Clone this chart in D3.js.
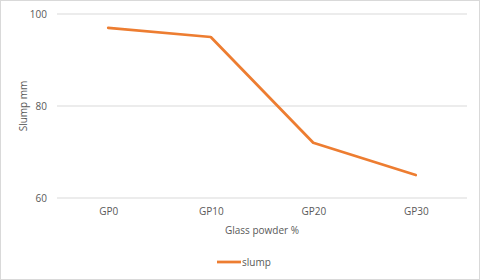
<!DOCTYPE html>
<html>
  <head>
    <meta http-equiv="Content-Type" content="text/html;charset=utf-8"/>
    <title>Slump</title>
    <script src="https://d3js.org/d3.v7.min.js"></script>
    <style>
      body { margin: 0; }
      text { font-family: "Open Sans", "Liberation Sans", sans-serif; fill: #595959; }
    </style>
  </head>
  <body>
    <div id="content"></div>
    <script type="text/javascript">
        const categories = ['GP0', 'GP10', 'GP20', 'GP30']
        const slump = [97, 95, 72, 65]
        const yTicks = [60, 80, 100]

        const width = 480,
            height = 280,
            plotLeft = 57,
            plotRight = 467,
            plotTop = 14,
            plotBottom = 198

        const svg = d3.select('#content').append('svg').attr('width', width).attr('height', height)

        svg.append('rect')
            .attr('x', 0.5).attr('y', 0.5)
            .attr('width', width - 1).attr('height', height - 1)
            .attr('fill', '#fff').attr('stroke', '#d9d9d9')

        const xScale = d3.scalePoint()
            .domain(categories)
            .range([plotLeft, plotRight])
            .padding(0.5)

        const yScale = d3.scaleLinear()
            .domain([60, 100])
            .range([plotBottom, plotTop])

        // grid lines
        svg.append('g')
            .selectAll('line')
            .data(yTicks)
            .enter()
            .append('line')
            .attr('x1', plotLeft).attr('x2', plotRight)
            .attr('y1', d => yScale(d)).attr('y2', d => yScale(d))
            .attr('stroke', '#d9d9d9').attr('stroke-width', 1)

        const yAxis = d3.axisLeft(yScale).tickValues(yTicks).tickSize(0).tickPadding(10)
        const gy = svg.append('g')
            .attr('transform', 'translate(' + plotLeft + ',0)')
            .call(yAxis)
        gy.select('.domain').remove()
        gy.selectAll('text').style('font-size', '10px').attr('fill', '#595959')

        const xAxis = d3.axisBottom(xScale).tickSize(0).tickPadding(10)
        const gx = svg.append('g')
            .attr('transform', 'translate(0,' + plotBottom + ')')
            .call(xAxis)
        gx.select('.domain').remove()
        gx.selectAll('text').style('font-size', '10px').attr('fill', '#595959')

        const line = d3.line()
            .x((d, i) => xScale(categories[i]))
            .y(d => yScale(d))

        svg.append('path')
            .datum(slump)
            .attr('d', line)
            .attr('fill', 'none')
            .attr('stroke', '#ED7D31')
            .attr('stroke-width', 2.75)
            .attr('stroke-linejoin', 'round')
            .attr('stroke-linecap', 'round')

        svg.append('text')
            .attr('x', (plotLeft + plotRight) / 2)
            .attr('y', 234)
            .attr('text-anchor', 'middle')
            .style('font-size', '10px')
            .text('Glass powder %')

        svg.append('text')
            .attr('transform', 'translate(27,' + ((plotTop + plotBottom) / 2) + ') rotate(-90)')
            .attr('text-anchor', 'middle')
            .style('font-size', '10px')
            .text('Slump mm')

        // legend
        svg.append('line')
            .attr('x1', 217).attr('x2', 241)
            .attr('y1', 262).attr('y2', 262)
            .attr('stroke', '#ED7D31').attr('stroke-width', 2.75)
        svg.append('text')
            .attr('x', 242).attr('y', 265.5)
            .style('font-size', '10px')
            .text('slump')
    </script>
  </body>
</html>
